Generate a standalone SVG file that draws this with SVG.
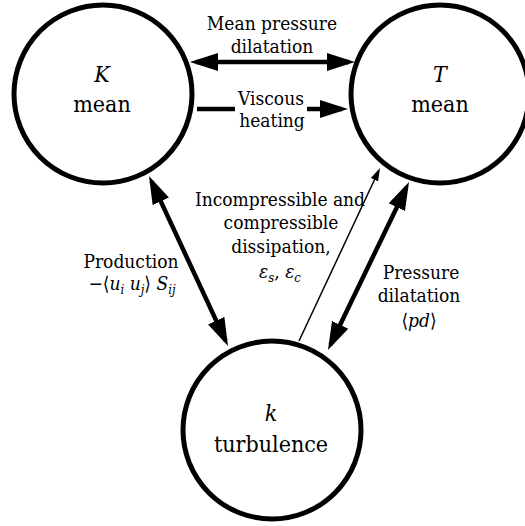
<svg xmlns="http://www.w3.org/2000/svg" width="525" height="526" viewBox="0 0 525 526">
<style>
  text { fill: #000; font-family: "DejaVu Serif Condensed", "DejaVu Serif", serif; }
  .node circle { fill: #fff; stroke: #000; stroke-width: 5; }
  .nl { font-size: 23px; text-anchor: middle; }
  .el { font-size: 19px; text-anchor: middle; }
  .it { font-style: italic; }
  .sub { font-size: 13px; }
  .thick { stroke: #000; stroke-width: 4.5; fill: none; }
  .thin { stroke: #000; stroke-width: 1.5; fill: none; }
</style>
<defs>
  <marker id="ah" markerUnits="userSpaceOnUse" markerWidth="28" markerHeight="20" viewBox="0 0 28 20" refX="22" refY="10" orient="auto-start-reverse">
    <path d="M0,1 L28,10 L0,19 Z" fill="#000"/>
  </marker>
  <marker id="ahs" markerUnits="userSpaceOnUse" markerWidth="13" markerHeight="10" viewBox="0 0 13 10" refX="10" refY="5" orient="auto">
    <path d="M0,1 L13,5 L0,9 Z" fill="#000"/>
  </marker>
</defs>
<rect width="525" height="526" fill="#fff"/>

<g id="connectors">
  <line class="thick" x1="196" y1="62" x2="349" y2="62" marker-start="url(#ah)" marker-end="url(#ah)"/>
  <line class="thick" x1="197" y1="109" x2="235" y2="109"/>
  <line class="thick" x1="307" y1="109" x2="342" y2="109" marker-end="url(#ah)"/>
  <line class="thick" x1="151.5" y1="181.4" x2="225.5" y2="340.6" marker-start="url(#ah)" marker-end="url(#ah)"/>
  <line class="thick" x1="406.4" y1="187.4" x2="330.6" y2="344.6" marker-start="url(#ah)" marker-end="url(#ah)"/>
  <line class="thin" x1="299" y1="341" x2="378.7" y2="170.7" marker-end="url(#ahs)"/>
</g>

<g id="node-K" class="node">
  <circle cx="103" cy="94" r="89"/>
  <text class="nl it" x="102" y="82">K</text>
  <text class="nl" x="102" y="112">mean</text>
</g>
<g id="node-T" class="node">
  <circle cx="440" cy="94" r="89"/>
  <text class="nl it" x="440" y="82">T</text>
  <text class="nl" x="440" y="112">mean</text>
</g>
<g id="node-k" class="node">
  <circle cx="272" cy="430" r="89"/>
  <text class="nl it" x="271" y="421">k</text>
  <text class="nl" x="271" y="452">turbulence</text>
</g>

<g id="labels">
  <text class="el" x="272" y="30">Mean pressure</text>
  <text class="el" x="272" y="53">dilatation</text>
  <text class="el" x="271" y="105">Viscous</text>
  <text class="el" x="272" y="127">heating</text>
  <text class="el" x="280" y="206">Incompressible and</text>
  <text class="el" x="281" y="229">compressible</text>
  <text class="el" x="281" y="253">dissipation,</text>
  <text class="el" x="280" y="278"><tspan class="it">ε</tspan><tspan class="sub it" dy="4">s</tspan><tspan dy="-4">, </tspan><tspan class="it">ε</tspan><tspan class="sub it" dy="4">c</tspan></text>
  <text class="el" x="131" y="268">Production</text>
  <text class="el" x="132" y="290">−⟨<tspan class="it">u</tspan><tspan class="sub it" dy="4">i</tspan><tspan dy="-4"> </tspan><tspan class="it">u</tspan><tspan class="sub it" dy="4">j</tspan><tspan dy="-4">⟩ </tspan><tspan class="it">S</tspan><tspan class="sub it" dy="4">ij</tspan></text>
  <text class="el" x="421" y="279">Pressure</text>
  <text class="el" x="419" y="302">dilatation</text>
  <text class="el" x="419" y="327">⟨<tspan class="it">pd</tspan>⟩</text>
</g>
</svg>
